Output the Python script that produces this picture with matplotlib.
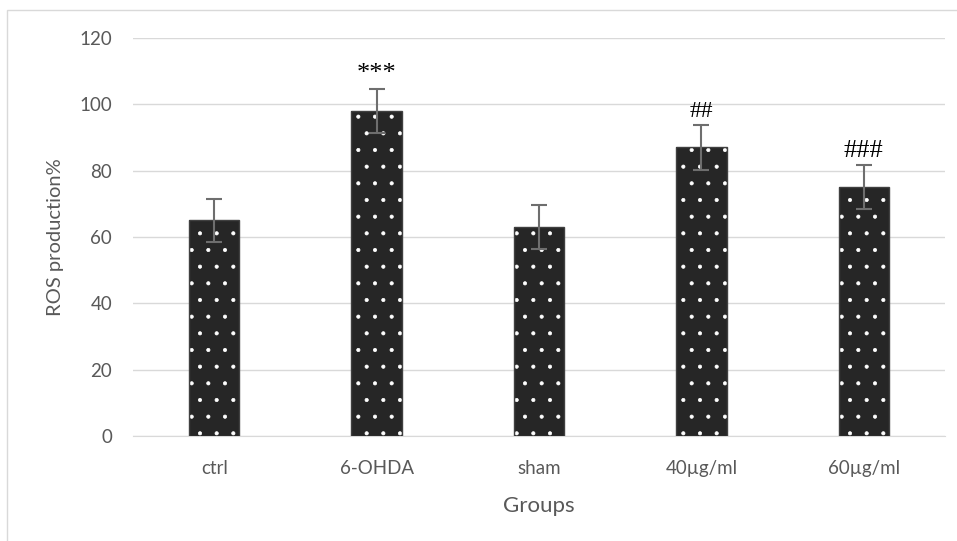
import matplotlib.pyplot as plt
import numpy as np
from matplotlib.patches import Rectangle

groups = ["ctrl", "6-OHDA", "sham", "40\u00b5g/ml", "60\u00b5g/ml"]
ros = [65, 98, 63, 87, 75]
err = [6.6, 6.7, 6.5, 6.7, 6.7]
marks = ["", "***", "", "##", "###"]
mark_sizes = [19, 19, 19, 17, 19]

plt.rcParams['font.family'] = ['Lato', 'DejaVu Sans']
plt.rcParams['hatch.color'] = 'white'
plt.rcParams['hatch.linewidth'] = 0.5

fig = plt.figure(figsize=(9.57, 5.41), dpi=100)
ax = fig.add_axes([0.139, 0.194, 0.8485, 0.7358])

x = np.arange(len(groups))
ax.bar(x, ros, width=0.31, color='#262626', hatch='.', zorder=3)
ax.bar(x, ros, width=0.31, fill=False, edgecolor='#404040', linewidth=1, zorder=3)
ax.errorbar(x, ros, yerr=err, fmt='none', ecolor='#6e6e6e', elinewidth=1.5,
            capsize=6, capthick=1.5, zorder=4)

for xi, v, e, m, s in zip(x, ros, err, marks, mark_sizes):
    if m:
        ax.text(xi, v + e + 2.5, m, ha='center', va='baseline', fontsize=s,
                family='Liberation Serif', color='black')

ax.set_xlim(-0.5, len(groups) - 0.5)
ax.set_ylim(0, 120)
ax.set_yticks(range(0, 121, 20))
ax.set_xticks(x)
ax.set_xticklabels(groups)
ax.yaxis.grid(True, color='#d9d9d9', linewidth=1)
ax.set_axisbelow(True)
for sp in ['top', 'right', 'left']:
    ax.spines[sp].set_visible(False)
ax.spines['bottom'].set_color('#d9d9d9')
ax.tick_params(axis='both', length=0, labelsize=13.5, labelcolor='#595959')
ax.tick_params(axis='y', pad=15)
ax.tick_params(axis='x', pad=17)
ax.set_xlabel("Groups", fontsize=16, color='#595959', labelpad=14)
ax.set_ylabel("ROS production%", fontsize=14.5, color='#595959', labelpad=11)

fig.patches.append(Rectangle((7 / 957, -0.01), 1.0, 1 - 10 / 541 + 0.01,
                             transform=fig.transFigure, fill=False,
                             edgecolor='#d9d9d9', linewidth=1))

fig.savefig("out.png", dpi=100)
